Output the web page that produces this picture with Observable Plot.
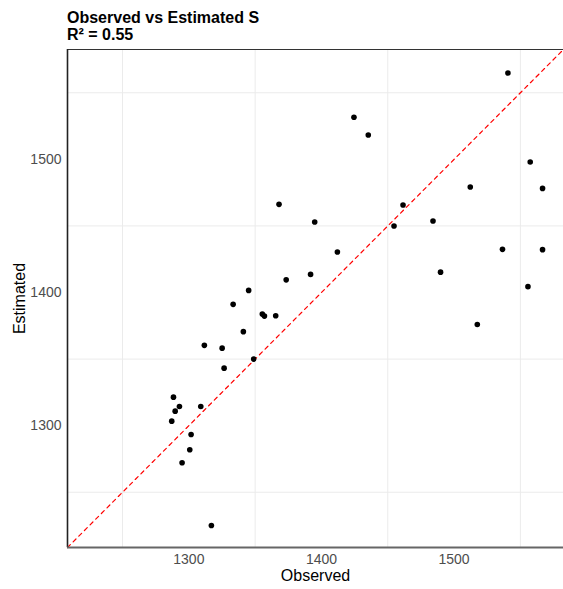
<!DOCTYPE html>
<html>
<head>
<meta charset="utf-8">
<script src="https://cdn.jsdelivr.net/npm/d3@7"></script>
<script src="https://cdn.jsdelivr.net/npm/@observablehq/plot@0.6"></script>
<style>
  html, body { margin: 0; padding: 0; background: #ffffff; }
  body { width: 563px; height: 589px; overflow: hidden; font-family: "Liberation Sans", Arial, sans-serif; }
  #titles { height: 44px; box-sizing: border-box; padding: 9px 0 0 67px; font-weight: bold; font-size: 16px; line-height: 17px; color: #000; }
  #chart svg [aria-label*="axis"] text { fill: #4d4d4d; }
</style>
</head>
<body>
<div id="titles">
  <div>Observed vs Estimated S</div>
  <div>R² = 0.55</div>
</div>
<div id="chart"></div>
<script>
// Observed and model-estimated S for each site
const observed = [
  1288.4, 1292.9, 1289.7, 1309.0, 1287.1, 1301.7, 1300.7, 1294.9, 1317.0,
  1373.4, 1345.1, 1333.4, 1355.4, 1357.0, 1365.5, 1341.1, 1311.7, 1325.1, 1348.9, 1326.6,
  1540.6, 1424.5, 1435.3, 1557.4, 1566.7, 1512.2, 1461.5, 1484.1, 1536.5, 1566.7,
  1489.8, 1555.7, 1517.5, 1368.0, 1394.9, 1412.0, 1391.8, 1454.7
];
const estimated = [
  1321.4, 1314.4, 1310.9, 1314.4, 1303.4, 1293.4, 1281.9, 1272.1, 1225.0,
  1409.5, 1401.6, 1391.1, 1383.8, 1382.3, 1382.6, 1370.6, 1360.3, 1358.2, 1350.0, 1343.2,
  1564.9, 1531.6, 1518.3, 1498.0, 1478.2, 1479.2, 1465.7, 1453.7, 1432.4, 1432.2,
  1415.3, 1404.4, 1376.0, 1466.2, 1452.9, 1430.4, 1413.6, 1449.9
];

// Shared limits for both axes, labelled breaks and the in-between grid lines
const axisLimits = [1208.5, 1582.5];
const majorBreaks = [1300, 1400, 1500];
const minorBreaks = [1250, 1350, 1450, 1550];

const points = observed.map((obs, i) => ({obs, est: estimated[i]}));
const identity = axisLimits.map(v => ({obs: v, est: v}));

const chart = Plot.plot({
  width: 563,
  height: 545,
  marginLeft: 67,
  marginRight: 0,
  marginTop: 5,
  marginBottom: 42,
  style: {fontFamily: "'Liberation Sans', Arial, sans-serif", fontSize: "14px", background: "#ffffff", overflow: "visible"},
  x: {domain: axisLimits, ticks: majorBreaks, tickSize: 0, tickPadding: 7, tickFormat: d => `${d}`, label: null},
  y: {domain: axisLimits, ticks: majorBreaks, tickSize: 0, tickPadding: 6, tickFormat: d => `${d}`, label: null},
  marks: [
    Plot.ruleX(minorBreaks, {stroke: "#ebebeb", strokeWidth: 1}),
    Plot.ruleY(minorBreaks, {stroke: "#ebebeb", strokeWidth: 1}),
    Plot.line(identity, {x: "obs", y: "est", stroke: "#ff0000", strokeWidth: 1.2, strokeDasharray: "4,4"}),
    Plot.dot(points, {x: "obs", y: "est", r: 2.8, fill: "#000000", stroke: "none"}),
    Plot.ruleY([axisLimits[1]], {stroke: "#333333", strokeWidth: 1}),
    Plot.ruleX([axisLimits[0]], {stroke: "#222222", strokeWidth: 1.6}),
    Plot.ruleY([axisLimits[0]], {stroke: "#666666", strokeWidth: 2}),
    Plot.text(["Observed"], {frameAnchor: "bottom", textAnchor: "middle", dy: 33.5, fontSize: 16, fill: "#000000"}),
    Plot.text(["Estimated"], {frameAnchor: "left", textAnchor: "middle", rotate: -90, dx: -48, fontSize: 16, fill: "#000000"})
  ]
});
document.getElementById("chart").appendChild(chart);
</script>
</body>
</html>
